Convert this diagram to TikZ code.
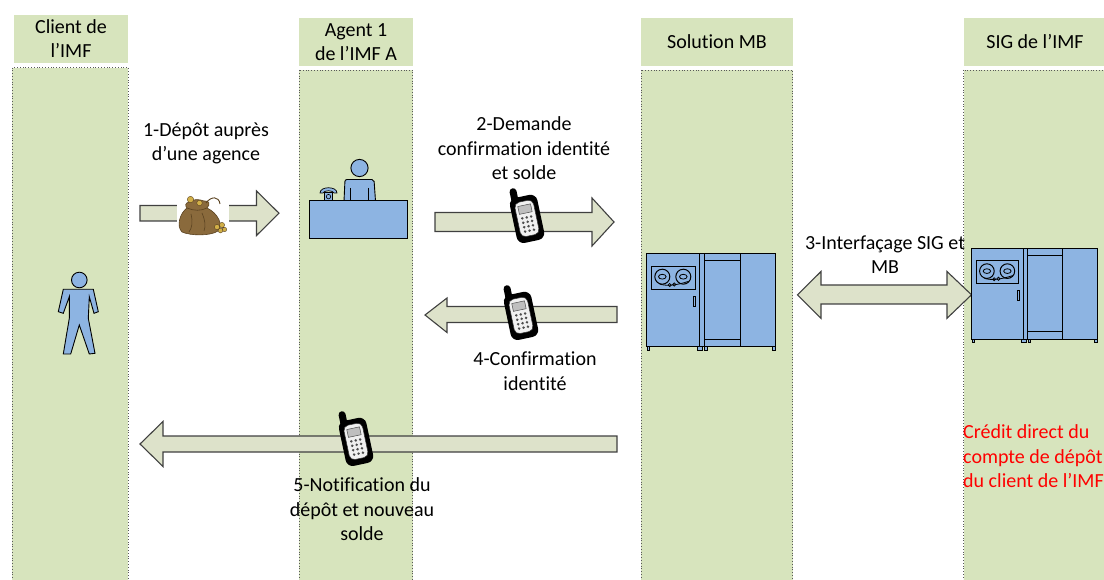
\documentclass[tikz,border=0pt]{standalone}
\usepackage{fontspec}
\setmainfont{Carlito}[Ligatures=NoCommon]
\definecolor{lanegreen}{HTML}{D7E4BD}
\definecolor{arrowfill}{HTML}{DDE2CA}
\definecolor{iconblue}{HTML}{8DB4E2}
\definecolor{sackbrown}{HTML}{8A6A3C}
\definecolor{sackdark}{HTML}{5A4220}
\definecolor{coingold}{HTML}{D2B048}
\newcommand{\txtfont}{\fontsize{20}{24.5}\selectfont}
\tikzset{
  hdr/.style={fill=lanegreen, draw=none},
  lane/.style={fill=lanegreen, draw=black!65, dotted, line width=0.8pt},
  blockarrow/.style={fill=arrowfill, draw=black!75, line width=1.1pt, line join=miter},
  lbl/.style={align=center, font=\txtfont, inner sep=0pt, text=black},
  icon/.style={fill=iconblue, draw=black, line width=0.9pt},
  server/.pic={
    \draw[icon] (0,0) rectangle (129,93);
    \draw[line width=0.9pt] (52.6,0) -- (52.6,93) (57.3,0) -- (57.3,93) (93.3,0) -- (93.3,93);
    \draw[line width=0.9pt] (57.3,7.4) -- (93.3,7.4) (57.3,85.7) -- (93.3,85.7);
    \draw[line width=0.9pt] (5,12.7) rectangle (48.3,36);
    \draw[line width=1pt] (15.6,23.4) circle[radius=7.5pt] (36.6,23.4) circle[radius=7.5pt];
    \draw[line width=0.8pt] (15.6,23.4) ellipse[x radius=3.8pt, y radius=2.4pt]
      (36.6,23.4) ellipse[x radius=3.8pt, y radius=2.4pt];
    \draw[line width=0.8pt] (13,30.8) .. controls (20,33) and (30,32) .. (42,28);
    \draw[line width=0.7pt] (23,31.8) circle[radius=1.6pt] (27.5,31.2) circle[radius=1.6pt];
    \draw[line width=0.8pt] (46.5,43.3) rectangle (48.5,53.3);
    \draw[icon, line width=0.6pt] (0.5,93) rectangle (2.8,96.5) (50.5,93) rectangle (56,96.5)
      (58,93) rectangle (60.5,96.5) (126,93) rectangle (128.5,96.5);
  },
  phone/.pic={
    \fill[black, rounded corners=3.5pt] (-11.5,-28) rectangle (-4.5,-12);
    \fill[black, rounded corners=7pt] (-14,-18) rectangle (14,28);
    \filldraw[fill=gray!12, draw=black!80, line width=0.5pt, rounded corners=5pt] (-9.5,-13) rectangle (9.5,22);
    \filldraw[fill=gray!50, draw=black!70, line width=0.5pt] (-6.5,-9) rectangle (6.5,-1);
    \foreach \i in {0,1,2} \foreach \j in {0,...,3}
      \fill[black!70] (-4.5+4.5*\i, 3.5+4.5*\j) circle[radius=1.4pt];
  },
  sack/.pic={
    \draw[fill=sackbrown, draw=sackdark, line width=0.6pt]
      (-15,-10) .. controls (-22,-5) and (-26,8) .. (-20,14)
      .. controls (-11,18) and (9,18) .. (16,13)
      .. controls (22,8) and (16,-5) .. (5,-10)
      .. controls (9,-14) and (7,-18) .. (2,-17)
      .. controls (-3,-19) and (-9,-19) .. (-13,-16)
      .. controls (-17,-15) and (-17,-12) .. (-15,-10) -- cycle;
    \draw[sackdark, line width=0.6pt] (-15,-10) .. controls (-8,-7) and (-1,-7) .. (5,-10)
      (-11,-4) .. controls (-9,4) and (-10,10) .. (-13,14)
      (0,-5) .. controls (3,2) and (4,8) .. (2,13);
    \draw[sackdark, line width=0.9pt] (4,-15) .. controls (9,-22) and (17,-22) .. (18,-14);
    \filldraw[fill=coingold, draw=sackdark, line width=0.4pt] (-11.5,-18.5) circle[radius=3.2pt]
      (-2.5,-15) circle[radius=2.8pt] (15,9) circle[radius=2.6pt] (20,7) circle[radius=2.6pt]
      (18.5,12.5) circle[radius=2.4pt] (22.5,11.5) circle[radius=2.2pt];
  }
}
\begin{document}
\begin{tikzpicture}[x=1pt, y=-1pt]
\useasboundingbox (0,0) rectangle (1104,580);

% lanes: headers and dotted bodies
\fill[hdr] (14,15) rectangle (127.7,62.7);
\draw[lane] (12.3,67.7) rectangle (128.3,590);
\fill[hdr] (299,18.3) rectangle (412.7,65.7);
\draw[lane] (299,70) rectangle (412.7,590);
\fill[hdr] (641,18.3) rectangle (792.7,65.7);
\draw[lane] (641,70) rectangle (792.7,590);
\fill[hdr] (963.5,18.3) rectangle (1115,65.7);
\draw[lane] (963.5,70) rectangle (1115,590);

\node[lbl] (hclient) at (71,38.5) {Client de\\l’IMF};
\node[lbl] (hagent) at (356,42) {Agent 1\\de l’IMF A};
\node[lbl] (hmb) at (717,42) {Solution MB};
\node[lbl] (hsig) at (1035,42) {SIG de l’IMF};

% client figure
\draw[icon] (63.3,289.3) -- (93.3,289.3) -- (98.3,311.7) -- (94,313.3) -- (89.3,296.7)
  -- (88.3,318.3) -- (95,353.3) -- (89.3,354) -- (79.3,325) -- (70.7,354) -- (63.3,354)
  -- (69.3,318.3) -- (69.3,296.7) -- (63.3,313.3) -- (58.3,311.7) -- cycle;
\draw[icon] (79.3,280) circle[radius=7.8pt];

% agent at the counter
\draw[icon] (359.5,168) circle[radius=8.6pt];
\draw[icon, rounded corners=2pt] (344,201) -- (345,179.5) -- (374,179.5) -- (375.5,201);
\draw[line width=0.8pt] (350,188) -- (350,200.7) (368.5,188) -- (368.5,200.7);
\draw[icon] (309,200.7) rectangle (407.7,238.3);
\draw[icon, line width=0.7pt] (324.5,192.5) rectangle (332.5,200.7);
\draw[line width=0.6pt] (328.5,196.6) circle[radius=2.2pt];
\draw[icon, line width=0.7pt] (320,193) .. controls (320,186) and (337,186) .. (337,193)
  -- (334,193) .. controls (333,190) and (324,190) .. (323,193) -- cycle;

% block arrows
\draw[blockarrow] (140,205.5) -- (256.5,205.5) -- (256.5,191) -- (279,213.2) -- (256.5,235.5)
  -- (256.5,221) -- (140,221) -- cycle;
\draw[blockarrow] (435,212.5) -- (592,212.5) -- (592,198) -- (614,222) -- (592,246)
  -- (592,231.5) -- (435,231.5) -- cycle;
\draw[blockarrow] (797.5,294.8) -- (821,271.5) -- (821,285) -- (947,285) -- (947,271.5)
  -- (971.5,294.8) -- (947,318.3) -- (947,304) -- (821,304) -- (821,318.3) -- cycle;
\draw[blockarrow] (617,306.5) -- (447,306.5) -- (447,298) -- (425,315) -- (447,332.5)
  -- (447,322.5) -- (617,322.5) -- cycle;
\draw[blockarrow] (617,436) -- (163,436) -- (163,421.5) -- (140,444) -- (163,466.5)
  -- (163,452) -- (617,452) -- cycle;

% money bag on its white patch
\fill[white] (177,194) rectangle (228.5,236);
\pic (bag) at (202,218) {sack};

% phones on the messages
\pic (ph2) at (526,214) [rotate=12] {phone};
\pic (ph4) at (520,311) [rotate=12] {phone};
\pic (ph5) at (355,437) [rotate=12] {phone};

% servers
\pic (srvmb) at (646.7,253.3) {server};
\pic (srvsig) at (971.7,248.3) [scale=0.975] {server};

% message labels
\node[lbl] (m1) at (206,143.5) {1-Dépôt auprès\\d’une agence};
\node[lbl] (m2) at (524,148.5) {2-Demande\\confirmation identité\\et solde};
\node[lbl] (m3) at (885,254.5) {3-Interfaçage SIG et\\MB};
\node[lbl] (m4) at (535,371) {4-Confirmation\\identité};
\node[lbl] (m5) at (362,509.5) {5-Notification du\\dépôt et nouveau\\solde};
\node[lbl, align=left, anchor=west, text=red] (credit) at (963,456.5)
  {Crédit direct du\\compte de dépôt\\du client de l’IMF};
\end{tikzpicture}
\end{document}
